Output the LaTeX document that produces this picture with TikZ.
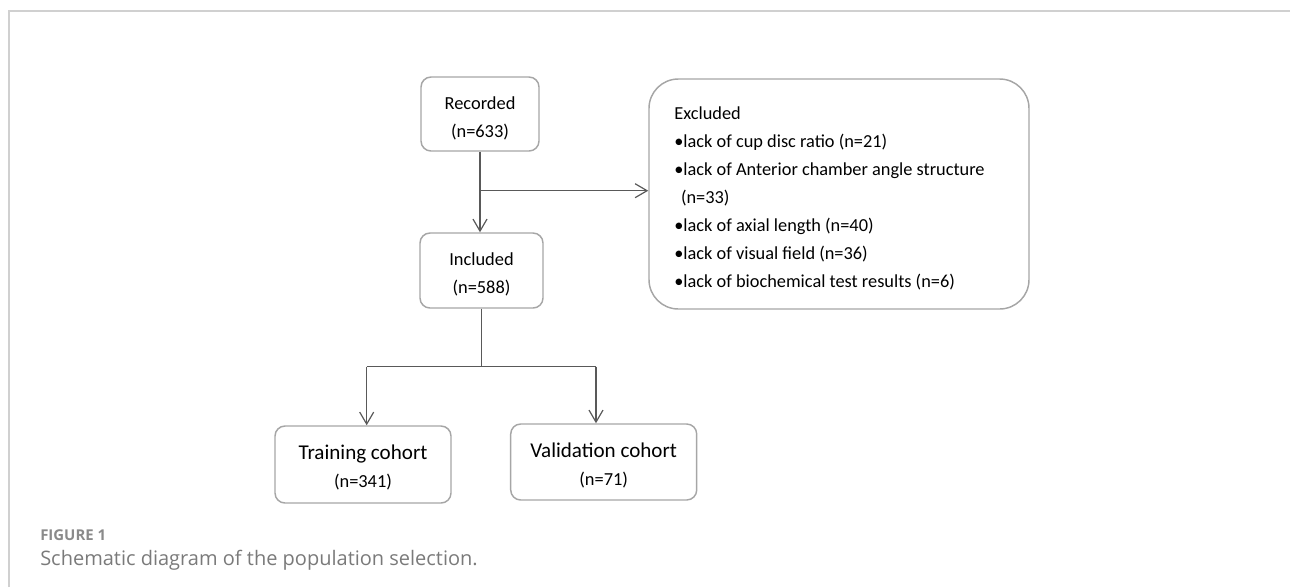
\documentclass[tikz,border=0pt]{standalone}
\usepackage{fontspec}
\setmainfont{Carlito}
\newfontfamily\capfont{Open Sans}
\usetikzlibrary{arrows.meta}
\definecolor{boxgray}{HTML}{A6A6A6}
\definecolor{linegray}{HTML}{595959}
\definecolor{framegray}{HTML}{D0D0D0}
\definecolor{capgray}{HTML}{8A8A8A}
\definecolor{captext}{HTML}{7A7A7A}
\newcommand\boxlines[2][c]{\raisebox{-2.6pt}[\height][\depth]{\begin{tabular}{@{}#1@{}}#2\end{tabular}}}
\tikzset{
  stagebox/.style={draw=boxgray, line width=1.1pt, rounded corners=7.5pt, align=center, inner sep=0pt,
    font=\fontsize{13.8pt}{21pt}\selectfont},
  conn/.style={draw=linegray, line width=0.95pt},
  connarrow/.style={conn, -{Straight Barb[length=9pt,width=10.5pt,line width=0.9pt]}},
}
\begin{document}
\begin{tikzpicture}[x=0.75pt,y=-0.75pt]
\useasboundingbox (0,0) rectangle (1290,587);
% frame
\draw[framegray, line width=1.2pt] (9,587) -- (9,11) -- (1290,11);

% nodes
\node[stagebox, minimum width=88.5pt, minimum height=55.5pt] (rec) at (480,114)
  {\boxlines{Recorded\\(n=633)}};
\node[stagebox, minimum width=92.25pt, minimum height=56.25pt] (inc) at (481.5,270.5)
  {\boxlines{Included\\(n=588)}};
\node[stagebox, rounded corners=22pt, minimum width=285pt, minimum height=172.5pt,
      font=\fontsize{13.75pt}{21pt}\selectfont] (exc) at (839,194)
  {\boxlines[p{247pt}]{Excluded\\
   •lack of cup disc ratio (n=21)\\
   •lack of Anterior chamber angle structure\\
   \hspace*{5pt}(n=33)\\
   •lack of axial length (n=40)\\
   •lack of visual field (n=36)\\
   •lack of biochemical test results (n=6)}};
\node[stagebox, minimum width=132pt, minimum height=57.75pt] (train) at (363,464.5)
  {\boxlines{{\fontsize{15.8pt}{21.5pt}\selectfont Training cohort}\\(n=341)}};
\node[stagebox, minimum width=139.5pt, minimum height=57pt] (valid) at (603.7,462)
  {\boxlines{{\fontsize{15.8pt}{21.5pt}\selectfont Validation cohort}\\(n=71)}};

% connectors
\coordinate (br) at (480,190.7);
\draw[connarrow] (rec.south) -- (rec.south |- inc.north);
\draw[connarrow] (br) -- (br -| exc.west);
\coordinate (split) at (481.5,366.7);
\coordinate (lt) at (366.7,366.7);
\coordinate (rt) at (596,366.7);
\draw[conn] (inc.south) -- (split);
\draw[conn] (lt) -- (rt);
\draw[connarrow] (lt) -- (lt |- train.north);
\draw[connarrow] (rt) -- (rt |- valid.north);

% caption
\node[anchor=base west, inner sep=0pt, text=capgray, font=\capfont\bfseries\fontsize{11.2pt}{13pt}\selectfont] (figlabel) at (40,540.5) {FIGURE 1};
\node[anchor=base west, inner sep=0pt, text=captext, font=\capfont\fontsize{15pt}{17pt}\selectfont] (captxt) at (40,565) {Schematic diagram of the population selection.};
\end{tikzpicture}
\end{document}
